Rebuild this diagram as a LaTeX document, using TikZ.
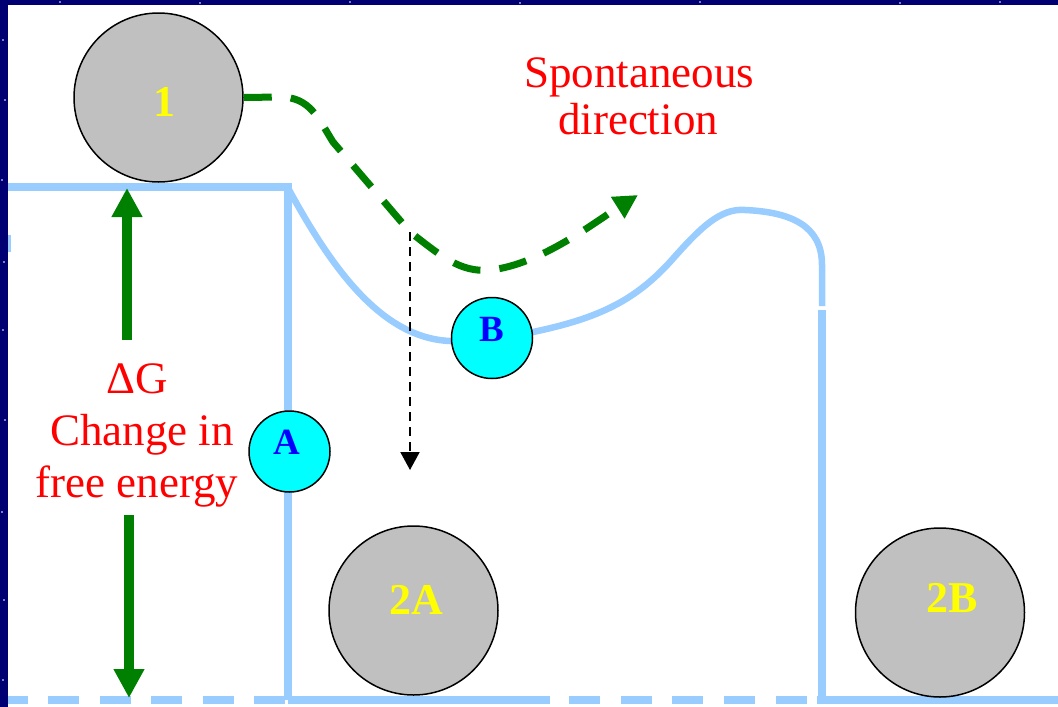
\documentclass[tikz,border=0pt]{standalone}
\usepackage{fontspec}
\setmainfont{Liberation Serif}
\usetikzlibrary{arrows.meta}
\definecolor{navybg}{RGB}{0,0,115}
\definecolor{track}{RGB}{153,204,255}
\definecolor{grn}{RGB}{0,128,0}
\definecolor{ballgrey}{RGB}{192,192,192}
\definecolor{ballcyan}{RGB}{0,255,255}
\definecolor{labyellow}{RGB}{255,255,0}
\definecolor{labblue}{RGB}{0,0,255}
\definecolor{txtred}{RGB}{255,0,0}
\tikzset{
  bigball/.style={circle, draw=black, line width=1.5pt, fill=ballgrey, minimum size=169pt, inner sep=0pt},
  smallball/.style={circle, draw=black, line width=1.5pt, fill=ballcyan, minimum size=81pt, inner sep=0pt},
  ylab/.style={text=labyellow, font=\bfseries\fontsize{44}{44}\selectfont, inner sep=0pt},
  blab/.style={text=labblue, font=\bfseries\fontsize{37}{37}\selectfont, inner sep=0pt},
  redtxt/.style={text=txtred, font=\fontsize{45}{52}\selectfont, inner sep=0pt, anchor=base},
  trackline/.style={draw=track, line width=8pt},
  star/.style={fill=white, draw=none, circle, minimum size=1.6pt, inner sep=0pt},
}
\begin{document}
\begin{tikzpicture}[x=1pt,y=-1pt]
\useasboundingbox (0,0) rectangle (1058,707);
% background and panel
\fill[navybg] (0,0) rectangle (1058,707);
\foreach \sx/\sy [count=\i] in {3/40,5/100,2/180,4/262,3/330,5/420,2/512,4/600,3/680,60/2,200/3,350/2,520/3,700/2,900/3,1000/2}
  \node[star] (st\i) at (\sx,\sy) {};
\fill[white] (8,5) rectangle (1058,707);
\begin{scope}
\clip (8,5) rectangle (1058,707);
% track
\draw[trackline] (-5,187) -- (288,187) -- (288,700);
\draw[trackline, dash pattern=on 31pt off 20.5pt] (-3.5,700) -- (286,700);
\draw[trackline] (288,700) -- (550,700);
\draw[trackline, dash pattern=on 31pt off 20.7pt] (569,700) -- (808,700);
\draw[trackline] (817,700) -- (1062,700);
\draw[trackline] (822,310) -- (822,700);
\draw[track, line width=3pt] (9.5,235) -- (9.5,252);
\draw[track, line width=6.5pt] (288,188) .. controls (330,265) and (380,338) .. (450,341)
  .. controls (480,342) and (505,338) .. (533,332)
  .. controls (600,318) and (635,300) .. (670,262)
  .. controls (700,228) and (720,208) .. (745,210)
  .. controls (790,212) and (822,225) .. (822,265) -- (822,306);
\end{scope}
% balls
\node[bigball] (b1) at (158.5,97.5) {};
\node[bigball] (b2a) at (413.5,610.5) {};
\node[bigball] (b2b) at (940,612.5) {};
\node[smallball] (ba) at (289.5,451.5) {};
\node[smallball] (bb) at (492,338) {};
% spontaneous path
\coordinate (kink) at (410,232);
\coordinate (tipS) at (638,195);
\coordinate (dropTip) at (410,470);
\draw[grn, line width=7pt, dash pattern=on 28pt off 19pt, -{Triangle[length=24pt,width=24pt]}]
  (b1.east) -- (280,97) .. controls (310,97) and (318,118) .. (333,142) -- (kink)
  .. controls (440,255) and (460,273) .. (490,270)
  .. controls (540,265) and (595,222) .. (tipS);
\draw[black, line width=2pt, dash pattern=on 9pt off 6pt, -{Triangle[length=18pt,width=19pt]}]
  (kink) -- (dropTip);
% Delta G arrows
\coordinate (upS) at (127,340);
\coordinate (upT) at (127,188);
\coordinate (dnS) at (129,515);
\coordinate (dnT) at (129,698);
\draw[grn, line width=10pt, -{Triangle[length=29pt,width=29pt]}] (upS) -- (upT);
\draw[grn, line width=10pt, -{Triangle[length=29pt,width=29pt]}] (dnS) -- (dnT);
% labels
\node[ylab] (l1) at (164,102) {1};
\node[ylab] (l2a) at (416.5,600) {2A};
\node[ylab] (l2b) at (951.7,598) {2B};
\node[blab] (la) at (286.7,442) {A};
\node[blab] (lb) at (491.7,329.5) {B};
% texts
\node[redtxt] (dg) at (137,393) {ΔG};
\node[redtxt] (ch) at (142,445) {Change in};
\node[redtxt] (fe) at (137,497) {free energy};
\node[redtxt] (sp) at (639,87) {Spontaneous};
\node[redtxt] (di) at (638,134) {direction};
\end{tikzpicture}
\end{document}
